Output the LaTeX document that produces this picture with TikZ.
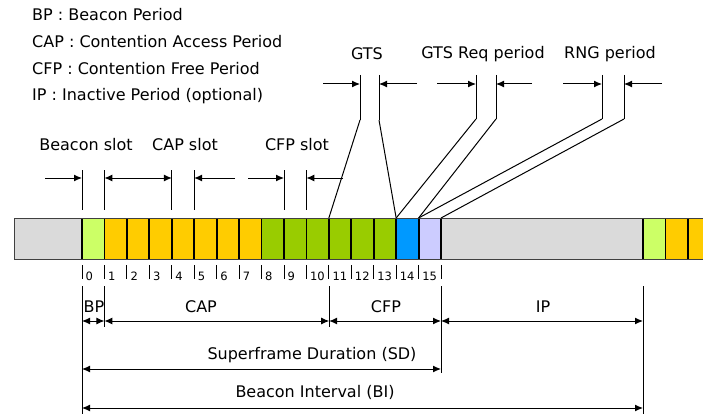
\documentclass[tikz,border=0pt]{standalone}
\usepackage{fontspec}
\setmainfont{DejaVu Sans}
\usetikzlibrary{calc}
\usetikzlibrary{arrows.meta}
\definecolor{bargray}{RGB}{218,218,218}
\definecolor{beaconclr}{RGB}{204,255,102}
\definecolor{capclr}{RGB}{255,204,0}
\definecolor{cfpclr}{RGB}{153,204,0}
\definecolor{gtsreqclr}{RGB}{0,153,255}
\definecolor{rngclr}{RGB}{204,204,255}
\newcommand{\slotbox}[2]{\fill[#2] ( {82 + 22.44 * #1} , 218 ) rectangle ( {82 + 22.44 * #1 + 22.44} , 259 );}
\newcommand{\slotnum}[1]{\coordinate (b#1) at ( {82 + 22.44 * #1} , 218 ); \draw[divider] (b#1) -- (b#1 |- barbot); \coordinate (tk#1) at ( {82 + 22.44 * #1} , 265 ); \draw[tickline] (tk#1) -- ++(0,14); \node[numlbl] (n#1) at ( {85.5 + 22.44 * #1} , 276 ) {#1};}
\newcommand{\vmark}[4]{\coordinate (#1t) at ( #2 , #3 ); \coordinate (#1b) at ( #2 , #4 ); \draw[dimline] (#1t) -- (#1b);}

\begin{document}
\begin{tikzpicture}[x=1pt, y=-1pt,
    dimline/.style={line width=1pt},
    tickline/.style={line width=0.9pt},
    divider/.style={line width=1.8pt},
    barline/.style={line width=0.8pt, black!75},
    dimarrow/.style={dimline, -{Latex[length=8pt,width=7pt]}},
    dimboth/.style={dimline, {Latex[length=8pt,width=7pt]}-{Latex[length=8pt,width=7pt]}},
    lbl/.style={inner sep=0pt, font=\fontsize{16}{19}\selectfont},
    numlbl/.style={inner sep=0pt, anchor=west, font=\fontsize{11.5}{13}\selectfont}]
        \useasboundingbox (0,0) rectangle (703,414);

        % legend
        \node[lbl, anchor=west] (legbp) at (32,15) {BP : Beacon Period};
        \node[lbl, anchor=west] (legcap) at (32,42) {CAP : Contention Access Period};
        \node[lbl, anchor=west] (legcfp) at (32,69) {CFP : Contention Free Period};
        \node[lbl, anchor=west] (legip) at (32,96) {IP : Inactive Period (optional)};

        % bar
        \coordinate (barbot) at (0,259);
        \fill[bargray] (14,218) rectangle (82,259);
        \slotbox{0}{beaconclr}
        \slotbox{1}{capclr}
        \slotbox{2}{capclr}
        \slotbox{3}{capclr}
        \slotbox{4}{capclr}
        \slotbox{5}{capclr}
        \slotbox{6}{capclr}
        \slotbox{7}{capclr}
        \slotbox{8}{cfpclr}
        \slotbox{9}{cfpclr}
        \slotbox{10}{cfpclr}
        \slotbox{11}{cfpclr}
        \slotbox{12}{cfpclr}
        \slotbox{13}{cfpclr}
        \slotbox{14}{gtsreqclr}
        \slotbox{15}{rngclr}
        \fill[bargray] (441,218) rectangle (643,259);
        \fill[beaconclr] (643,218) rectangle (665.4,259);
        \fill[capclr] (665.4,218) rectangle (703,259);

        % slot numbers
        \slotnum{0}
        \slotnum{1}
        \slotnum{2}
        \slotnum{3}
        \slotnum{4}
        \slotnum{5}
        \slotnum{6}
        \slotnum{7}
        \slotnum{8}
        \slotnum{9}
        \slotnum{10}
        \slotnum{11}
        \slotnum{12}
        \slotnum{13}
        \slotnum{14}
        \slotnum{15}
        \coordinate (b16) at (441,218);
        \draw[divider] (b16) -- (b16 |- barbot);
        \coordinate (tk16) at (441,265);
        \draw[tickline] (tk16) -- ++(0,14);
        \coordinate (c1) at (643,218);
        \draw[divider] (c1) -- (c1 |- barbot);
        \coordinate (c2) at (665.4,218);
        \draw[divider] (c2) -- (c2 |- barbot);
        \coordinate (c3) at (687.8,218);
        \draw[divider] (c3) -- (c3 |- barbot);
        \draw[barline] (703,218) -- (14,218) -- (14,259) -- (703,259);

        % slot marks
        \node[lbl] (beaconslot) at (86,145) {Beacon slot};
        \node[lbl] (capslot) at (185,145) {CAP slot};
        \node[lbl] (cfpslot) at (297,145) {CFP slot};
        \vmark{s0}{82}{170}{210}
        \vmark{s1}{104.4}{170}{210}
        \vmark{s4}{171.8}{170}{210}
        \vmark{s5}{194.2}{170}{210}
        \vmark{s9}{284}{170}{210}
        \vmark{s10}{306.4}{170}{210}
        \coordinate (beaconin) at (45,178);
        \draw[dimarrow] (beaconin) -- (beaconin -| s0t);
        \draw[dimboth] (s1t |- beaconin) -- (s4t |- beaconin);
        \coordinate (capout) at (235,178);
        \draw[dimarrow] (capout) -- (capout -| s5t);
        \coordinate (cfpin) at (248,178);
        \draw[dimarrow] (cfpin) -- (cfpin -| s9t);
        \coordinate (cfpout) at (343,178);
        \draw[dimarrow] (cfpout) -- (cfpout -| s10t);

        % period marks
        \node[lbl] (gts) at (367,54) {GTS};
        \node[lbl] (gtsreq) at (483,54) {GTS Req period};
        \node[lbl] (rng) at (610,54) {RNG period};
        \vmark{g1}{360}{75}{120}
        \vmark{g2}{379}{75}{120}
        \vmark{r1}{476}{75}{119}
        \vmark{r2}{496}{75}{119}
        \vmark{p1}{602}{75}{119}
        \vmark{p2}{624}{75}{119}
        \draw[dimline] (g1b) -- (b11);
        \draw[dimline] (g2b) -- (b14);
        \draw[dimline] (r1b) -- (b14);
        \draw[dimline] (r2b) -- (b15);
        \draw[dimline] (p1b) -- (b15);
        \draw[dimline] (p2b) -- (b16);
        \coordinate (gtsin) at (323,84);
        \draw[dimarrow] (gtsin) -- (gtsin -| g1t);
        \coordinate (gtsout) at (417,84);
        \draw[dimarrow] (gtsout) -- (gtsout -| g2t);
        \coordinate (reqin) at (437,84);
        \draw[dimarrow] (reqin) -- (reqin -| r1t);
        \coordinate (reqout) at (532,84);
        \draw[dimarrow] (reqout) -- (reqout -| r2t);
        \coordinate (rngin) at (563,84);
        \draw[dimarrow] (rngin) -- (rngin -| p1t);
        \coordinate (rngout) at (662,84);
        \draw[dimarrow] (rngout) -- (rngout -| p2t);

        % durations
        \vmark{d0}{82}{286}{414}
        \vmark{d1}{104.4}{286}{327}
        \vmark{d11}{329.2}{286}{327}
        \vmark{d16}{441}{286}{373}
        \vmark{dip}{643}{286}{414}
        \coordinate (rowa) at (0,321);
        \coordinate (rowb) at (0,369);
        \coordinate (rowc) at (0,408);
        \draw[dimboth] (d0t |- rowa) -- (d1t |- rowa);
        \draw[dimboth] (d1t |- rowa) -- (d11t |- rowa);
        \draw[dimboth] (d11t |- rowa) -- (d16t |- rowa);
        \draw[dimboth] (d16t |- rowa) -- (dipt |- rowa);
        \draw[dimboth] (d0t |- rowb) -- (d16t |- rowb);
        \draw[dimboth] (d0t |- rowc) -- (dipt |- rowc);

        % text
        \node[lbl] (bp) at (94,307) {BP};
        \node[lbl] (cap) at (201,307) {CAP};
        \node[lbl] (cfp) at (386,307) {CFP};
        \node[lbl] (ip) at (543,307) {IP};
        \node[lbl] (sd) at (312,355) {Superframe Duration (SD)};
        \node[lbl] (bi) at (315,392) {Beacon Interval (BI)};
    \end{tikzpicture}
\end{document}
